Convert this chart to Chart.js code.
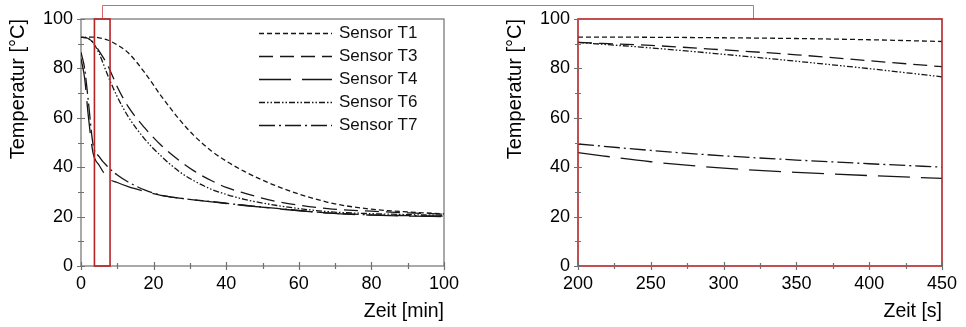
<!DOCTYPE html>
<html>
<head>
<meta charset="utf-8">
<script src="https://cdn.jsdelivr.net/npm/chart.js@4.4.1/dist/chart.umd.min.js"></script>
<style>
  html, body { margin: 0; padding: 0; background: #fff; }
  #wrap { position: relative; width: 966px; height: 327px; }
  #left { position: absolute; left: 0; top: 0; }
  #right { position: absolute; left: 480px; top: 0; }
</style>
</head>
<body>
<div id="wrap">
  <canvas id="left" width="480" height="327"></canvas>
  <canvas id="right" width="486" height="327"></canvas>
</div>
<script>
// --- data: full run in minutes ---
const sensorNames = ['Sensor T1', 'Sensor T3', 'Sensor T4', 'Sensor T6', 'Sensor T7'];
const timeMin = [0, 1, 2, 3.3, 5, 7.5, 10, 13, 17.5, 22, 27, 31, 36, 40, 45, 54, 68, 80, 90, 100];
const t1Min = [92.6, 92.6, 92.7, 92.7, 92.4, 91.4, 89.5, 86.3, 78.4, 69, 59.5, 53, 46.5, 42.5, 38.3, 32.3, 25.8, 23, 21.9, 21.1];
const t3Min = [92.6, 92.5, 92.1, 90.5, 87, 80.8, 72.5, 64.5, 56, 49, 42.8, 38.6, 34.5, 31.8, 29.5, 26.1, 23.2, 22.2, 21.5, 21];
const t4Min = [84, 76, 61, 45.9, 40.8, 35.5, 33.8, 32.1, 30.2, 28.6, 27.5, 26.8, 26, 25.3, 24.5, 23.2, 21.4, 20.6, 20.2, 20];
const t6Min = [92.6, 92.5, 92.1, 90.5, 86, 76.7, 68.5, 60.5, 51.5, 44.6, 38.3, 34.6, 31, 29, 27, 24.5, 22, 21.2, 20.8, 20.5];
const t7Min = [86.5, 80, 67, 49.4, 44.3, 40, 36.8, 34, 30.8, 28.7, 27.5, 26.8, 26.1, 25.4, 24.6, 23.3, 21.5, 20.7, 20.4, 20.2];

// --- data: zoomed window in seconds ---
const timeSec = [200, 250, 300, 350, 400, 450];
const t1Sec = [92.7, 92.6, 92.4, 92.1, 91.6, 90.9];
const t3Sec = [90.5, 89.3, 87.5, 85.5, 83.1, 80.7];
const t4Sec = [45.9, 42.2, 39.6, 37.9, 36.6, 35.5];
const t6Sec = [90.5, 88.3, 85.7, 82.9, 79.9, 76.6];
const t7Sec = [49.4, 46.8, 44.6, 42.9, 41.4, 40.0];

const yTicks = [0, 20, 40, 60, 80, 100];
const zoomFrom = 3.7, zoomTo = 8.0;   // red window in the left plot (min)
const linkAt = 320;                   // where the link line meets the right plot (s)

const dashes = [[5, 3], [14, 7], [32, 11], [6, 2, 1.5, 2, 1.5, 2], [16, 4, 2, 4]];
const lineColor = '#161616';
const axisGray = '#707070';
const red = '#b52327';
const linkRed = '#d66a6a';
const font = 'Liberation Sans, Arial, sans-serif';

function toPoints(xs, ys) {
  return xs.map((x, i) => ({ x: x, y: ys[i] }));
}

function makeSets(xs, series) {
  return series.map((ys, i) => ({
    label: sensorNames[i],
    data: toPoints(xs, ys),
    borderColor: lineColor,
    borderWidth: 1.3,
    borderDash: dashes[i],
    pointRadius: 0,
    cubicInterpolationMode: 'monotone',
    fill: false
  }));
}

// ticks that cross the axis line, majors and minors
function drawCrossTicks(chart, xMajor, xMinor, yMajor, yMinor) {
  const { ctx, chartArea: a, scales: { x, y } } = chart;
  ctx.save();
  ctx.strokeStyle = axisGray;
  ctx.lineWidth = 1.2;
  ctx.setLineDash([]);
  ctx.beginPath();
  for (let v = x.min; v <= x.max + 1e-6; v += xMinor) {
    const px = Math.round(x.getPixelForValue(v)) + 0.5;
    const len = Math.abs(v / xMajor - Math.round(v / xMajor)) < 1e-6 ? 4 : 3;
    ctx.moveTo(px, a.bottom - len);
    ctx.lineTo(px, a.bottom + len);
  }
  for (let v = y.min; v <= y.max + 1e-6; v += yMinor) {
    const py = Math.round(y.getPixelForValue(v)) + 0.5;
    const len = Math.abs(v / yMajor - Math.round(v / yMajor)) < 1e-6 ? 4 : 3;
    ctx.moveTo(a.left - len, py);
    ctx.lineTo(a.left + len, py);
  }
  ctx.stroke();
  ctx.restore();
}

const leftDecor = {
  id: 'leftDecor',
  beforeDatasetsDraw(chart) {
    const { ctx, chartArea: a } = chart;
    ctx.save();
    ctx.strokeStyle = axisGray;
    ctx.lineWidth = 1.2;
    ctx.strokeRect(a.left, a.top, a.right - a.left, a.bottom - a.top);
    ctx.restore();
    drawCrossTicks(chart, 20, 10, 20, 10);
  },
  afterDraw(chart) {
    const { ctx, chartArea: a, scales: { x } } = chart;
    const x0 = x.getPixelForValue(zoomFrom), x1 = x.getPixelForValue(zoomTo);
    ctx.save();
    // link line to the right plot
    ctx.strokeStyle = linkRed;
    ctx.lineWidth = 1;
    ctx.beginPath();
    const xm = Math.round((x0 + x1) / 2) + 0.5;
    ctx.moveTo(xm, a.top);
    ctx.lineTo(xm, 5.5);
    ctx.lineTo(chart.width, 5.5);
    ctx.stroke();
    // zoom window
    ctx.strokeStyle = red;
    ctx.lineWidth = 1.6;
    ctx.strokeRect(x0, a.top, x1 - x0, a.bottom - a.top);
    // legend inside the plot
    ctx.font = '17px ' + font;
    ctx.textBaseline = 'middle';
    ctx.fillStyle = '#111';
    chart.data.datasets.forEach((ds, i) => {
      const yy = Math.round(a.top + 14 + i * 23.1) + 0.5;
      ctx.strokeStyle = lineColor;
      ctx.lineWidth = 1.3;
      ctx.setLineDash(ds.borderDash);
      ctx.beginPath();
      ctx.moveTo(a.right - 185, yy);
      ctx.lineTo(a.right - 112, yy);
      ctx.stroke();
      ctx.fillText(ds.label, a.right - 105, yy);
    });
    ctx.restore();
  }
};

const rightDecor = {
  id: 'rightDecor',
  afterDraw(chart) {
    const { ctx, chartArea: a, scales: { x } } = chart;
    ctx.save();
    ctx.strokeStyle = linkRed;
    ctx.lineWidth = 1;
    ctx.beginPath();
    const xl = Math.round(x.getPixelForValue(linkAt)) + 0.5;
    ctx.moveTo(0, 5.5);
    ctx.lineTo(xl, 5.5);
    ctx.lineTo(xl, a.top);
    ctx.stroke();
    ctx.strokeStyle = red;
    ctx.lineWidth = 1.6;
    ctx.strokeRect(a.left, a.top, a.right - a.left, a.bottom - a.top);
    ctx.restore();
    drawCrossTicks(chart, 50, 25, 20, 10);
  }
};

function baseOptions(xMin, xMax, xStep, xTitle, yWidth, padRight, yTitlePad) {
  return {
    responsive: false,
    animation: false,
    layout: { padding: { top: 19, right: padRight, left: 0, bottom: 0 } },
    plugins: { legend: { display: false }, tooltip: { enabled: false } },
    scales: {
      x: {
        type: 'linear',
        min: xMin, max: xMax,
        afterFit(s) { s.height = 61; },
        grid: { display: false, drawTicks: false },
        border: { display: false },
        ticks: { stepSize: xStep, padding: 7, color: '#000', font: { family: font, size: 18 } },
        title: { display: true, text: xTitle, align: 'end', color: '#000',
                 font: { family: font, size: 19.5 }, padding: { top: 0, bottom: 4 } }
      },
      y: {
        min: 0, max: 100,
        afterFit(s) { s.width = yWidth; },
        afterBuildTicks(s) { s.ticks = yTicks.map(v => ({ value: v })); },
        grid: { display: false, drawTicks: false },
        border: { display: false },
        ticks: { padding: 8, color: '#000', font: { family: font, size: 18 } },
        title: { display: true, text: 'Temperatur [°C]', align: 'end', color: '#000',
                 font: { family: font, size: 20 }, padding: { top: yTitlePad, bottom: 0 } }
      }
    }
  };
}

new Chart(document.getElementById('left'), {
  type: 'line',
  data: { datasets: makeSets(timeMin, [t1Min, t3Min, t4Min, t6Min, t7Min]) },
  options: baseOptions(0, 100, 20, 'Zeit [min]', 81, 36, 6),
  plugins: [leftDecor]
});

new Chart(document.getElementById('right'), {
  type: 'line',
  data: { datasets: makeSets(timeSec, [t1Sec, t3Sec, t4Sec, t6Sec, t7Sec]) },
  options: baseOptions(200, 450, 50, 'Zeit [s]', 98, 24, 23),
  plugins: [rightDecor]
});
</script>
</body>
</html>
